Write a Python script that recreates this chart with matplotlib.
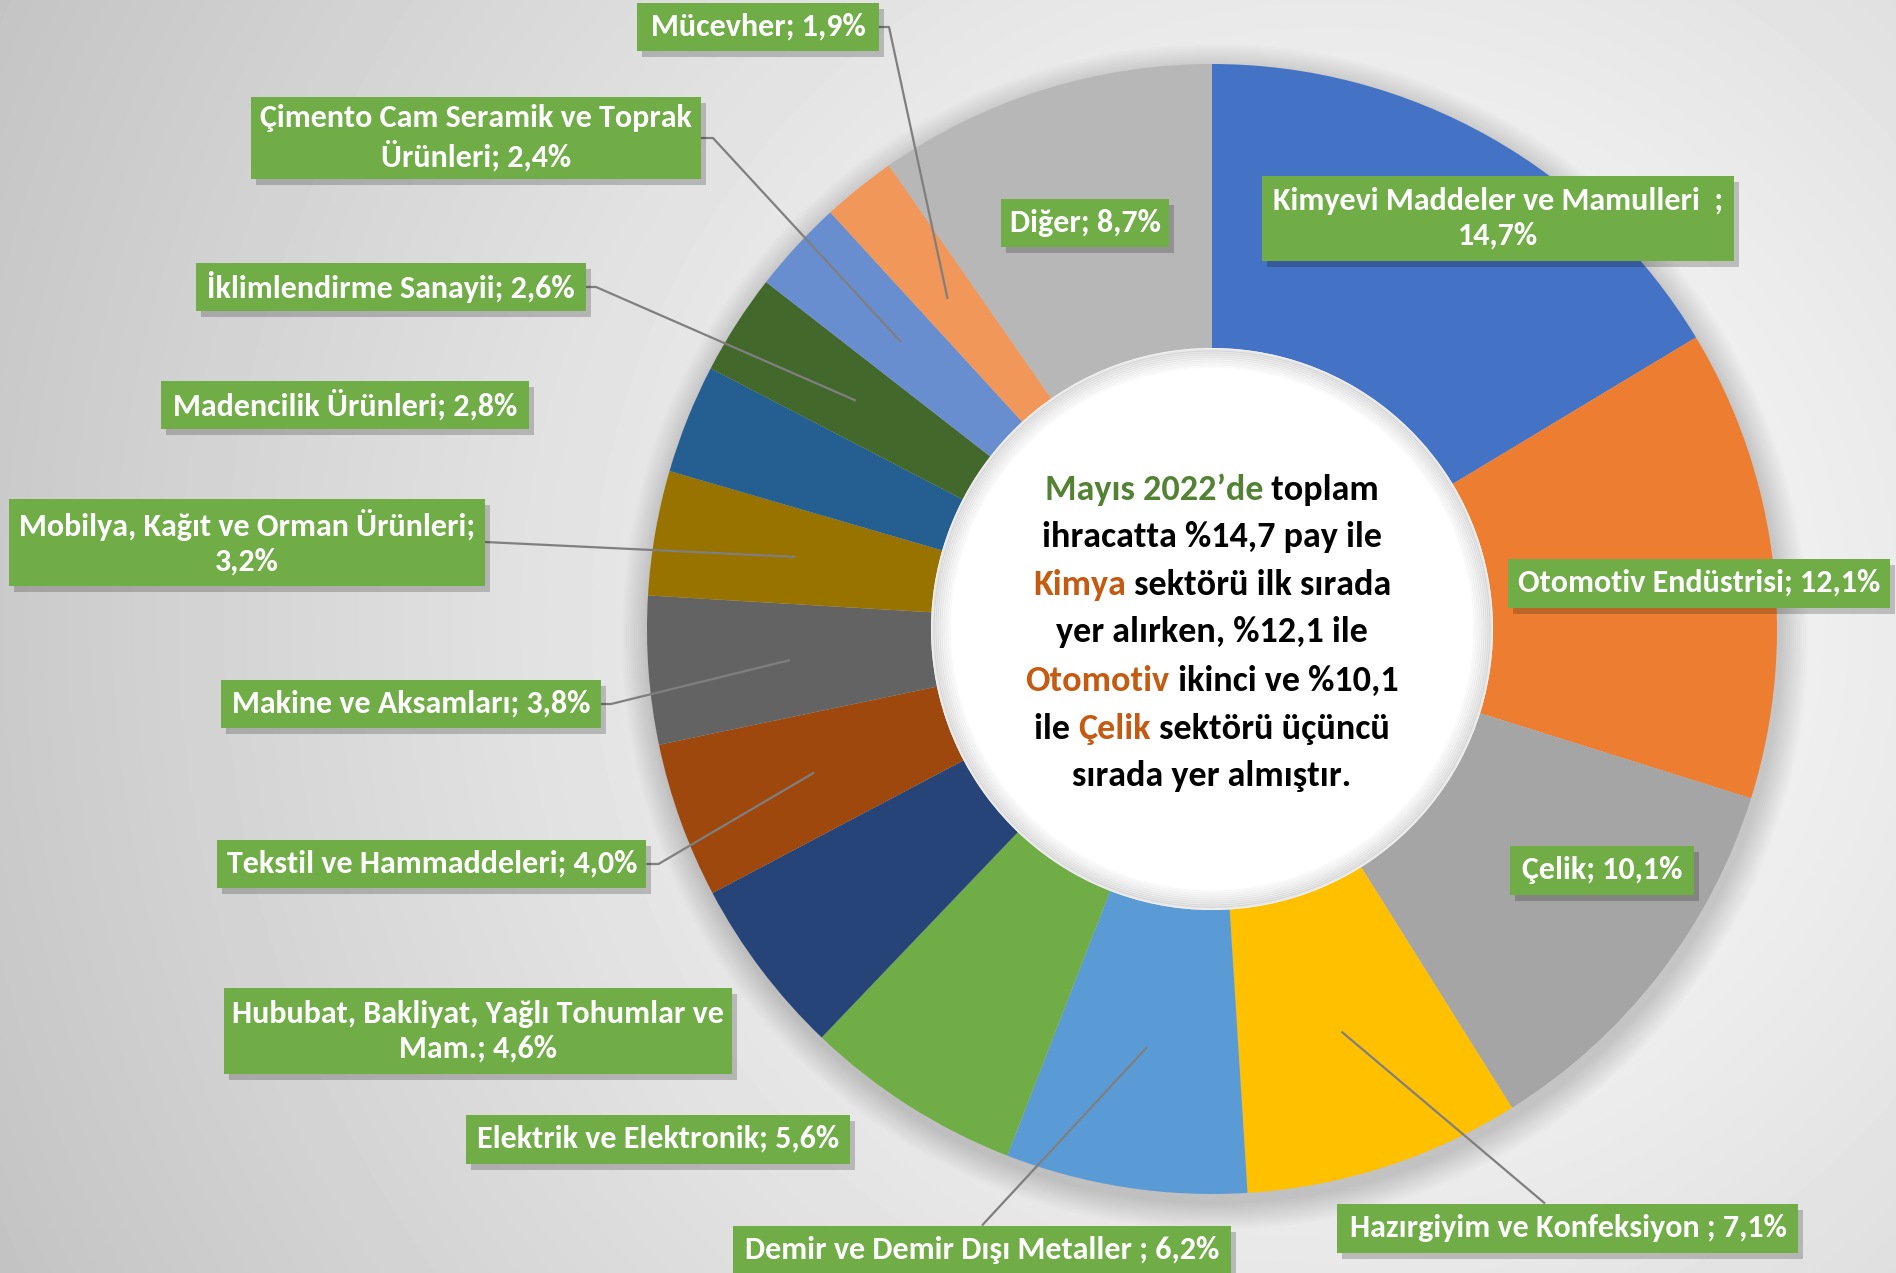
import numpy as np
import matplotlib.pyplot as plt
from matplotlib.patches import Rectangle, Circle

# veriler (Mayıs 2022 ihracat payları, %)
sektorler = ["Kimyevi Maddeler ve Mamulleri  ", "Otomotiv Endüstrisi", "Çelik",
             "Hazırgiyim ve Konfeksiyon ", "Demir ve Demir Dışı Metaller ",
             "Elektrik ve Elektronik", "Hububat, Bakliyat, Yağlı Tohumlar ve\nMam.",
             "Tekstil ve Hammaddeleri", "Makine ve Aksamları",
             "Mobilya, Kağıt ve Orman Ürünleri", "Madencilik Ürünleri",
             "İklimlendirme Sanayii", "Çimento Cam Seramik ve Toprak\nÜrünleri",
             "Mücevher", "Diğer"]
paylar = [14.7, 12.1, 10.1, 7.1, 6.2, 5.6, 4.6, 4.0, 3.8, 3.2, 2.8, 2.6, 2.4, 1.9, 8.7]
alt_satir = [True, False, False, False, False, False, False, False, False, True,
             False, False, False, False, False]
renkler = ["#4472C4", "#ED7D31", "#A5A5A5", "#FFC000", "#5B9BD5", "#70AD47",
           "#264478", "#9E480E", "#636363", "#997300", "#255E91", "#43682B",
           "#698ED0", "#F1975A", "#B7B7B7"]

# etiket kutulari: merkez (px, ustten) ve boyut
kutu_xy = [(1498, 218), (1699, 583), (1602, 870), (1568, 1228), (982, 1250),
           (658, 1139), (478, 1031), (432, 864), (411, 704), (247, 542),
           (345, 405), (391, 287), (476, 138), (758, 27), (1085, 223)]
kutu_wh = [(472, 85), (382, 49), (184, 49), (461, 49), (498, 49),
           (384, 49), (508, 86), (429, 48), (380, 48), (476, 87),
           (368, 48), (390, 48), (450, 82), (242, 48), (168, 48)]
# kilavuz cizgiler: (kenar, kayma)
kilavuz = [None, None, None, ("t", -23), ("t", 0), None, None, ("r", 12),
           ("r", 10), ("r", 0), None, ("r", 10), ("r", 12), ("r", 10), None]

W, H = 1896, 1273
cx, cy = 1212, H - 629
R, r_ic = 565, 281

plt.rcParams['font.family'] = ['Carlito', 'Lato', 'DejaVu Sans']

fig = plt.figure(figsize=(W / 100, H / 100), dpi=100)
ax = fig.add_axes([0, 0, 1, 1])

# arka plan
yy, xx = np.mgrid[0:H, 0:W]
d = np.hypot(xx - 1330, yy - 620)
gri = np.clip(1 - 0.22 * (d / 1400) ** 1.15, 0, 1)
ax.imshow(gri, cmap="gray", vmin=0, vmax=1, extent=(0, W, 0, H),
          origin="upper", zorder=0, aspect="auto")

# halka golgesi
for s in range(2, 30, 2):
    ax.add_patch(Circle((cx + 3, cy - 8), R + s, color="black", alpha=0.011,
                        lw=0, zorder=1))

ax.pie(paylar, colors=renkler, radius=R, center=(cx, cy), startangle=90,
       counterclock=False, wedgeprops=dict(width=R - r_ic, linewidth=0, zorder=2))

# ic bosluk + ic golge
ax.add_patch(Circle((cx, cy), r_ic, color="white", lw=0, zorder=3))
for s in range(2, 22, 2):
    ax.add_patch(Circle((cx, cy), r_ic - s, fill=False, ec="black", lw=2.2,
                        alpha=0.009 * (22 - s) / 2, zorder=3.1))
ax.add_patch(Circle((cx, cy), r_ic - 20, color="white", lw=0, zorder=3.2))

# kilavuz cizgileri
toplam = sum(paylar)
kum = np.cumsum([0] + paylar)
r_orta = (R + r_ic) / 2
for i, k in enumerate(kilavuz):
    if k is None:
        continue
    aci = np.deg2rad(90 - (kum[i] + paylar[i] / 2) / toplam * 360)
    ex, ey = cx + r_orta * np.cos(aci), cy + r_orta * np.sin(aci)
    bx, by = kutu_xy[i][0], H - kutu_xy[i][1]
    w, h = kutu_wh[i]
    if k[0] == "r":
        xs = [bx + w / 2, bx + w / 2 + k[1], ex]
        ys = [by, by, ey]
    else:
        xs = [bx + k[1], ex]
        ys = [by + h / 2, ey]
    ax.plot(xs, ys, color="#7F7F7F", lw=1.6, zorder=4, solid_capstyle="butt")

# etiketler
for i, ad in enumerate(sektorler):
    yuzde = f"{paylar[i]:.1f}%".replace(".", ",")
    metin = ad + (";\n" if alt_satir[i] else "; ") + yuzde
    bx, by = kutu_xy[i][0], H - kutu_xy[i][1]
    w, h = kutu_wh[i]
    ax.add_patch(Rectangle((bx - w / 2 + 5, by - h / 2 - 6), w, h, color="black",
                           alpha=0.2, lw=0, zorder=5))
    ax.add_patch(Rectangle((bx - w / 2, by - h / 2), w, h, color="#70AD47",
                           lw=0, zorder=6))
    ax.text(bx, by, metin, ha="center", va="center", color="white",
            fontsize=23, fontweight="bold", linespacing=1.3, zorder=7)

# orta metin
yesil, turuncu, siyah = "#548235", "#C55A11", "black"
satirlar = [
    [("Mayıs 2022’de", yesil), (" toplam", siyah)],
    [("ihracatta %14,7 pay ile", siyah)],
    [("Kimya", turuncu), (" sektörü ilk sırada", siyah)],
    [("yer alırken, %12,1 ile", siyah)],
    [("Otomotiv", turuncu), (" ikinci ve %10,1", siyah)],
    [("ile ", siyah), ("Çelik", turuncu), (" sektörü üçüncü", siyah)],
    [("sırada yer almıştır.", siyah)],
]
satir_y = [490, 537, 585, 632, 681, 729, 776]
rend = fig.canvas.get_renderer()
for parcalar, sy in zip(satirlar, satir_y):
    tlar = [ax.text(0, H - sy, p, color=c, fontsize=26, fontweight="bold",
                    ha="left", va="center", zorder=8) for p, c in parcalar]
    gen = [t.get_window_extent(rend).width for t in tlar]
    x0 = cx - sum(gen) / 2
    for t, g in zip(tlar, gen):
        t.set_x(x0)
        x0 += g

ax.set_aspect("equal", adjustable="box")
ax.set_xlim(0, W)
ax.set_ylim(0, H)
ax.set_axis_off()
fig.savefig("out.png", dpi=100)
